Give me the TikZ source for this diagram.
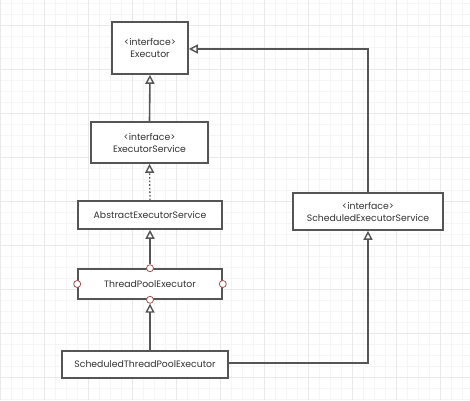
\documentclass[tikz,border=0pt]{standalone}
\usepackage{fontspec}
\setmainfont{Poppins}
\usetikzlibrary{arrows.meta}
\definecolor{boxline}{HTML}{555555}
\definecolor{txt}{HTML}{333333}
\definecolor{circ}{HTML}{A0524F}
\begin{document}
\begin{tikzpicture}[x=1pt,y=-1pt,
  cls/.style={draw=boxline,line width=1.6pt,fill=white,text=txt,font=\fontsize{9.3}{12}\selectfont,align=center,inner sep=0pt},
  conn/.style={draw=boxline,line width=1.6pt},
  inh/.style={conn,-{Triangle[open,length=9pt,width=9pt,line width=1.4pt]}},
  port/.style={circle,draw=circ,fill=white,line width=0.8pt,minimum size=7pt,inner sep=0pt}]
\useasboundingbox (0,0) rectangle (470,400);
\fill[white] (0,0) rectangle (470,400);
% grid
\foreach \i in {0,...,43} {
  \draw[gray!8,line width=0.6pt] ({0+\i*11},0) -- ({0+\i*11},400);
}
\foreach \i in {0,...,37} {
  \draw[gray!8,line width=0.6pt] (0,{3+\i*11}) -- (470,{3+\i*11});
}
\foreach \i in {0,...,10} {
  \draw[gray!17,line width=0.8pt] ({0+\i*44},0) -- ({0+\i*44},400);
}
\foreach \i in {0,...,9} {
  \draw[gray!17,line width=0.8pt] (0,{25+\i*44}) -- (470,{25+\i*44});
}
% nodes
\node[cls,minimum width=76pt,minimum height=52pt] (ex) at (150,48) {<interface>\\Executor};
\node[cls,minimum width=117pt,minimum height=41pt] (es) at (149.5,142.5) {<interface>\\ExecutorService};
\node[cls,minimum width=144pt,minimum height=28pt] (aes) at (150,215) {AbstractExecutorService};
\node[cls,minimum width=144pt,minimum height=30pt] (tpe) at (150,284) {ThreadPoolExecutor};
\node[cls,minimum width=166pt,minimum height=27pt] (stpe) at (145,364.5) {ScheduledThreadPoolExecutor};
\node[cls,minimum width=150pt,minimum height=37pt] (ses) at (368,211.5) {<interface>\\ScheduledExecutorService};
% ports
\node[port] (pt) at (tpe.north) {};
\node[port] (pb) at (tpe.south) {};
\node[port] (pl) at (tpe.west) {};
\node[port] (pr) at (tpe.east) {};
% corners
\coordinate (c1) at (368,49);
\coordinate (c2) at (368,363);
% connectors
\draw[inh] (es.north) -- (ex.south);
\draw[inh,dotted,line width=1.3pt] (aes.north) -- (es.south);
\draw[inh] (pt.north) -- (aes.south);
\draw[inh] (stpe.north -| pb) -- (pb.south);
\draw[inh] (stpe.east |- c2) -- (c2) -- (ses.south);
\draw[inh] (ses.north) -- (c1) -- (ex.east |- c1);
\end{tikzpicture}
\end{document}
